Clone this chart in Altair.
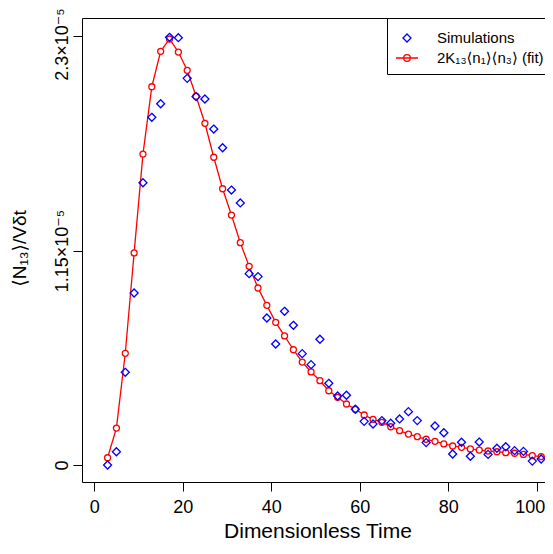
import altair as alt
import pandas as pd

# ---- data ----
times = [3, 5, 7, 9, 11, 13, 15, 17, 19, 21, 23, 25, 27, 29, 31, 33, 35, 37, 39, 41,
         43, 45, 47, 49, 51, 53, 55, 57, 59, 61, 63, 65, 67, 69, 71, 73, 75, 77, 79, 81,
         83, 85, 87, 89, 91, 93, 95, 97, 99, 101, 103]

# values in units of 1e-5
sim_vals = [0.0, 0.071, 0.497, 0.922, 1.513, 1.864, 1.937, 2.293, 2.291, 2.073,
            1.975, 1.962, 1.801, 1.701, 1.474, 1.405, 1.026, 1.010, 0.788, 0.649,
            0.824, 0.749, 0.597, 0.538, 0.674, 0.438, 0.370, 0.374, 0.299, 0.234,
            0.220, 0.238, 0.224, 0.247, 0.286, 0.238, 0.120, 0.209, 0.173, 0.059,
            0.122, 0.047, 0.123, 0.057, 0.090, 0.098, 0.077, 0.073, 0.021, 0.032,
            0.066]
fit_vals = [0.039, 0.198, 0.599, 1.137, 1.667, 2.028, 2.218, 2.284, 2.214, 2.116,
            1.977, 1.832, 1.650, 1.481, 1.340, 1.192, 1.065, 0.949, 0.856, 0.765,
            0.692, 0.618, 0.552, 0.499, 0.452, 0.398, 0.363, 0.327, 0.299, 0.268,
            0.245, 0.229, 0.205, 0.184, 0.166, 0.152, 0.138, 0.127, 0.113, 0.102,
            0.095, 0.086, 0.080, 0.075, 0.071, 0.066, 0.063, 0.057, 0.050, 0.045,
            0.045]
UNIT = 1e-5

SIM = "Simulations"
FIT = "2K₁₃⟨n₁⟩⟨n₃⟩ (fit)"

x_ticks = [0, 20, 40, 60, 80, 100]
y_ticks = [0, 1.15e-5, 2.3e-5]
x_domain = [-2.78, 101.87]
y_domain = [-0.0911e-5, 2.3965e-5]

sim_df = pd.DataFrame({"t": times, "v": [v * UNIT for v in sim_vals], "series": SIM})
fit_df = pd.DataFrame({"t": times, "v": [v * UNIT for v in fit_vals], "series": FIT})

FONT = "Liberation Sans, Arial, DejaVu Sans, sans-serif"
BLUE = "#0000FF"
RED = "#FF0000"

DIAMOND = "M0,-0.364L0.364,0L0,0.364L-0.364,0Z"
LINE_CIRCLE = ("M-1,0L1,0M0.3,0A0.3,0.3,0,1,1,-0.3,0"
               "A0.3,0.3,0,1,1,0.3,0Z")

xs = alt.Scale(domain=x_domain, nice=False, zero=False)
ys = alt.Scale(domain=y_domain, nice=False, zero=False)

x_axis_bottom = alt.Axis(
    values=x_ticks, title="Dimensionless Time", grid=False,
    tickSize=9, tickColor="black", tickWidth=1, domainColor="black", domainWidth=1,
    labelFontSize=18, labelFont=FONT, labelColor="black",
    labelBaseline="alphabetic", labelPadding=21, labelFlush=False, labelBound=False,
    labelOverlap=False,
    labelOffset={"condition": {"test": "datum.value > 90", "value": -7}, "value": 0},
    titleFont=FONT, titleFontSize=21, titleFontWeight="normal", titleColor="black",
    titleBaseline="alphabetic", titleX=235.5, titleY=55,
)
x_axis_top = alt.Axis(orient="top", labels=False, ticks=False, title=None,
                      grid=False, domain=True, domainColor="black", domainWidth=1)

y_axis = alt.Axis(
    values=y_ticks, grid=False,
    labelExpr="datum.value < 1e-6 ? '0' : (datum.value < 2e-5 ? '1.15×10⁻⁵' : '2.3×10⁻⁵')",
    tickSize=9, tickColor="black", tickWidth=1, domainColor="black", domainWidth=1,
    labelAngle=270, labelAlign="center", labelBaseline="alphabetic", labelPadding=6,
    labelOffset={"condition": {"test": "datum.value > 2e-5", "value": 8}, "value": 0},
    labelFontSize=18, labelFont=FONT, labelColor="black", labelFlush=False,
    labelBound=False, labelOverlap=False,
    title="⟨N₁₃⟩/Vδt", titleFont=FONT, titleFontSize=19, titleFontWeight="normal",
    titleColor="black", titleAngle=270, titleAlign="center",
    titleBaseline="alphabetic", titleX=-57, titleY=230,
)

legend = alt.Legend(
    orient="none", legendX=305, legendY=0, title=None,
    strokeColor="black", fillColor="white", padding=8,
    symbolSize=484, symbolStrokeWidth=1.3, symbolFillColor="transparent",
    labelFontSize=15, labelFont=FONT, labelColor="black", labelOffset=18,
    rowPadding=0, cornerRadius=0,
)

stroke_scale = alt.Scale(domain=[SIM, FIT], range=[BLUE, RED])
shape_scale = alt.Scale(domain=[SIM, FIT], range=[DIAMOND, LINE_CIRCLE])

line = alt.Chart(fit_df).mark_line(color=RED, strokeWidth=1.3, clip=True).encode(
    x=alt.X("t:Q", scale=xs, axis=x_axis_bottom),
    y=alt.Y("v:Q", scale=ys, axis=y_axis),
)

fit_pts = alt.Chart(fit_df).mark_point(
    shape="circle", size=36, strokeWidth=1.3, filled=True, fill="white",
    fillOpacity=1, opacity=1, clip=True,
).encode(
    x=alt.X("t:Q", scale=xs, axis=x_axis_top),
    y=alt.Y("v:Q", scale=ys, axis=y_axis),
    stroke=alt.Stroke("series:N", scale=stroke_scale, legend=legend),
)

sim_pts = alt.Chart(sim_df).mark_point(
    size=484, strokeWidth=1.3, filled=False, opacity=1, clip=True,
).encode(
    x=alt.X("t:Q", scale=xs, axis=None),
    y=alt.Y("v:Q", scale=ys, axis=y_axis),
    shape=alt.Shape("series:N", scale=shape_scale, legend=legend),
    stroke=alt.Stroke("series:N", scale=stroke_scale, legend=legend),
)

chart = alt.layer(line, fit_pts, sim_pts).resolve_axis(x="independent").properties(
    width=463, height=464,
    autosize=alt.AutoSizeParams(type="none"),
    padding={"left": 74, "top": 10, "right": 0, "bottom": 60},
    background="white",
).configure_view(stroke=None)

chart.save("out.html", embed_options={"renderer": "svg", "actions": False})
